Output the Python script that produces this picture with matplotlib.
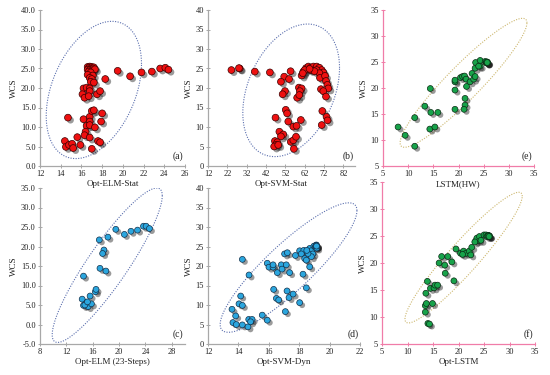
import numpy as np
import matplotlib
matplotlib.use("Agg")
import matplotlib.pyplot as plt
import matplotlib.patheffects as pe
from matplotlib.ticker import FormatStrFormatter

plt.rcParams['font.family'] = ['Liberation Serif', 'DejaVu Serif']

# (a) Opt-ELM-Stat vs WCS
a_x = [16.6, 16.8, 17.0, 17.2, 16.7, 16.9, 17.1, 16.6, 16.8, 17.0, 17.3, 16.7, 16.9, 16.6, 17.1, 16.8, 17.0, 16.9, 17.2,
       18.3, 19.5, 20.7, 21.8, 22.8, 23.6, 24.1, 24.4,
       16.2, 16.5, 16.8, 16.8, 16.1, 16.3, 16.7, 17.5, 17.8,
       14.7, 16.2, 16.8, 17.0, 17.2, 16.8, 16.5, 16.8, 17.3, 18.0, 17.9, 16.4, 16.3, 16.8, 15.6, 15.9, 14.4, 14.5,
       14.8, 15.1, 15.2, 17.0, 17.6, 17.8]
a_y = [25.4, 25.5, 25.4, 25.3, 25.1, 25.0, 25.0, 24.7, 24.6, 24.5, 24.8, 24.2, 24.0, 23.4, 23.2, 22.6, 22.3, 21.6, 21.4,
       22.3, 24.4, 23.0, 24.0, 24.2, 25.0, 25.2, 24.7,
       19.9, 20.1, 19.9, 19.2, 18.4, 17.5, 17.9, 18.4, 19.2,
       12.4, 12.0, 12.6, 14.1, 14.3, 11.4, 10.3, 10.5, 9.9, 13.5, 11.4, 8.8, 7.9, 7.3, 7.4, 5.4, 6.4, 4.9,
       5.4, 5.7, 4.6, 4.4, 6.4, 6.1]

# (b) Opt-SVM-Stat vs WCS
b_x = [24.1, 28.4, 28.0, 36.2, 44.0, 54.7, 51.4, 53.9, 49.7, 51.8, 50.6,
       60.4, 61.3, 62.7, 63.9, 65.1, 66.5, 68.2, 69.6, 70.8, 71.6, 68.2, 65.1, 62.0, 61.0, 69.6, 67.0, 64.5,
       59.0, 60.4, 59.5, 58.1, 59.2,
       69.9, 72.5, 73.0, 73.7, 74.2, 70.4, 71.6, 73.0, 71.1, 73.3, 73.8, 70.8,
       52.2, 52.9, 46.9, 60.0, 53.5, 56.1, 57.8, 48.9, 50.9, 49.7, 46.6, 47.8, 47.1, 46.2, 48.3, 54.8, 56.1, 57.5, 56.4]
b_y = [24.6, 25.0, 25.1, 24.2, 24.0, 24.3, 22.9, 22.3, 21.6, 19.2, 18.4,
       23.2, 24.2, 25.1, 25.5, 25.2, 25.5, 25.5, 25.2, 24.6, 24.0, 24.6, 24.6, 24.6, 23.8, 23.8, 24.3, 24.9,
       20.1, 19.9, 19.2, 17.5, 18.2,
       22.6, 23.1, 21.8, 20.8, 19.9, 19.7, 19.2, 17.8, 14.1, 12.6, 11.7, 10.5,
       14.4, 13.5, 12.4, 11.8, 11.4, 10.1, 10.3, 8.8, 8.1, 7.6, 6.4, 6.1, 5.4, 5.0, 5.4, 6.2, 6.6, 7.5, 4.4]

# (e) LSTM(HW) vs WCS  (last points overlap at ~25.6 / 24.9)
e_x = [8.0, 9.4, 11.3, 11.3, 13.3, 14.4, 14.5, 15.9, 14.3, 15.3, 19.3, 19.3, 19.3, 19.3, 20.4, 20.8, 21.2, 21.5,
       21.3, 21.3, 21.1, 21.6, 22.3, 23.0, 22.7, 23.3, 23.4, 24.3, 24.3, 25.3, 23.3, 24.0,
       25.6, 25.7, 25.5, 25.6, 25.7, 25.8, 25.6, 25.7]
e_y = [12.5, 10.9, 8.8, 14.3, 16.5, 19.9, 15.3, 15.3, 12.1, 12.5, 15.9, 19.6, 21.2, 21.5, 22.0, 22.2, 22.3, 21.7,
       18.0, 16.7, 15.9, 20.3, 21.2, 21.7, 22.8, 22.2, 24.9, 25.3, 24.2, 25.1, 23.8, 24.2,
       24.8, 25.0, 24.9, 24.9, 24.8, 24.9, 25.0, 24.9]

# (c) Opt-ELM (23-Steps) vs WCS
c_x = [14.6, 14.4, 14.6, 15.1, 15.3, 15.8, 14.8, 15.6, 16.4, 16.5, 17.1, 18.0, 17.7, 17.5, 17.0, 18.3, 19.5,
       20.8, 21.8, 22.8, 23.7, 24.1, 24.6, 15.2]
c_y = [12.4, 6.5, 4.9, 5.6, 4.6, 5.3, 5.0, 7.3, 8.4, 9.0, 14.4, 13.7, 19.1, 18.2, 21.7, 22.4, 24.4,
       23.1, 23.9, 24.2, 25.2, 25.2, 24.6, 5.8]

# (d) Opt-SVM-Dyn vs WCS
d_x = [14.26, 14.7, 14.15, 14.04, 14.26, 13.58, 13.82, 13.64, 13.86, 14.26, 14.63, 14.68, 14.9, 14.8, 15.57,
       15.9, 17.09, 16.32, 16.5, 16.65, 17.2, 17.33, 17.6, 18.03, 18.47,
       15.9, 16.01, 16.28, 16.28, 16.56, 16.82, 16.87, 17.15, 17.37, 17.04, 17.22, 17.75, 18.03, 18.3, 18.14,
       18.36, 18.47, 18.69, 18.25,
       18.69, 18.84, 18.97, 19.06, 18.9, 18.8, 19.13, 18.58, 18.5, 19.1, 19.15, 19.13, 19.1, 19.12, 19.14]
d_y = [21.7, 17.7, 12.3, 10.3, 9.9, 8.9, 7.2, 5.5, 5.0, 4.9, 4.4, 6.3, 6.3, 5.7, 7.4,
       6.1, 8.3, 14.0, 11.7, 11.3, 13.6, 11.9, 12.8, 10.6, 14.4,
       20.7, 19.7, 19.7, 20.3, 18.3, 20.3, 19.2, 20.3, 18.3, 23.1, 23.4, 22.7, 23.9, 24.0, 23.1,
       21.9, 21.5, 19.8, 17.9,
       24.5, 24.0, 25.1, 24.8, 23.1, 22.4, 25.4, 23.2, 24.0, 25.0, 24.6, 25.3, 25.2, 25.2, 25.1]

# (f) Opt-LSTM vs WCS
f_x = [14.0, 14.3, 13.5, 13.5, 13.7, 14.9, 13.6, 14.5, 13.9, 15.2, 15.4, 15.9, 17.4, 19.1, 16.2, 17.3, 16.7,
       17.9, 18.7, 19.5, 20.4, 21.0, 21.5, 22.1, 22.4, 20.8, 22.6, 23.4, 23.9, 23.6, 24.1, 23.2, 24.4,
       25.0, 25.4, 25.8, 26.0, 25.6, 25.9, 26.1, 25.8, 26.0]
f_y = [8.8, 8.7, 10.9, 12.1, 12.5, 12.5, 14.4, 15.3, 16.6, 15.4, 15.9, 15.9, 18.1, 16.7, 20.0, 19.6, 21.2,
       21.2, 20.2, 22.6, 21.8, 22.2, 21.8, 22.2, 21.5, 21.6, 22.9, 24.1, 24.2, 24.6, 24.9, 23.9, 24.2,
       25.2, 25.2, 25.1, 25.0, 24.9, 25.1, 25.0, 25.0, 24.9]

RED, BLUE, GREEN = '#ee1111', '#2ba6de', '#17a34a'
GREY_AX, PINK_AX = '#a8a8a8', '#f07ca8'
ELL_BLUE, ELL_YEL = '#5b6fae', '#cdb870'

W, H = 550, 375


def make_ax(fig, left, right, top, bottom):
    return fig.add_axes([left / W, 1 - bottom / H, (right - left) / W, (bottom - top) / H])


def confidence_ellipse(ax, center, hx, hy, rho, color):
    # ellipse with given half extents along x and y and a correlation-like tilt
    cov = np.array([[hx * hx, rho * hx * hy], [rho * hx * hy, hy * hy]])
    L = np.linalg.cholesky(cov)
    t = np.linspace(0, 2 * np.pi, 300)
    pts = L @ np.vstack([np.cos(t), np.sin(t)])
    ax.plot(center[0] + pts[0], center[1] + pts[1], color=color, lw=0.8,
            linestyle=(0, (1, 1.3)), zorder=1)


def style(ax, axcol, xlim, ylim, xticks, yticks, xlabel, tag, yfmt=None):
    ax.set_xlim(*xlim)
    ax.set_ylim(*ylim)
    ax.set_xticks(xticks)
    ax.set_yticks(yticks)
    if yfmt:
        ax.yaxis.set_major_formatter(FormatStrFormatter(yfmt))
    for s in ('top', 'right'):
        ax.spines[s].set_visible(False)
    for s in ('left', 'bottom'):
        ax.spines[s].set_color(axcol)
        ax.spines[s].set_linewidth(0.9)
    ax.tick_params(direction='inout', length=3, width=0.7, color=axcol,
                   labelsize=6, labelcolor='#222222', pad=1.5)
    ax.set_xlabel(xlabel, fontsize=6.5, labelpad=1.5, color='#222222')
    ax.set_ylabel('WCS', fontsize=6.5, labelpad=2, color='#222222')
    ax.text(0.99, 0.03, tag, transform=ax.transAxes, ha='right', va='bottom',
            fontsize=7, color='#222222')
    ax.set_facecolor('none')


def dots(ax, x, y, color, edge, size):
    shadow = [pe.SimplePatchShadow(offset=(1.8, -1.8), shadow_rgbFace='#222222', alpha=0.45), pe.Normal()]
    ax.scatter(x, y, s=size, c=color, edgecolors=edge, linewidths=0.5, zorder=3, path_effects=shadow)


fig = plt.figure(figsize=(5.5, 3.75), dpi=100)

ax_a = make_ax(fig, 40, 185, 10, 166)
confidence_ellipse(ax_a, (17.2, 19.5), 4.6, 17.6, 0.38, ELL_BLUE)
dots(ax_a, a_x, a_y, RED, '#3a0000', 24)
style(ax_a, GREY_AX, (12, 26), (0, 40), range(12, 27, 2), range(0, 41, 5), 'Opt-ELM-Stat', '(a)', '%.1f')

ax_b = make_ax(fig, 208, 355, 10, 166)
confidence_ellipse(ax_b, (55, 19.4), 25, 17, 0.34, ELL_BLUE)
dots(ax_b, b_x, b_y, RED, '#3a0000', 24)
style(ax_b, GREY_AX, (12, 88), (0, 40), range(12, 83, 10), range(0, 41, 5), 'Opt-SVM-Stat', '(b)')

ax_e = make_ax(fig, 383, 534, 10, 166)
confidence_ellipse(ax_e, (21, 21), 12.6, 12.4, 0.93, ELL_YEL)
dots(ax_e, e_x, e_y, GREEN, '#0b2a14', 18)
style(ax_e, PINK_AX, (5, 35), (5, 35), range(5, 36, 5), range(5, 36, 5), 'LSTM(HW)', '(e)')

ax_c = make_ax(fig, 40, 185, 188, 344)
confidence_ellipse(ax_c, (18.2, 15.2), 8.35, 19.8, 0.9, ELL_BLUE)
dots(ax_c, c_x, c_y, BLUE, '#12304a', 18)
style(ax_c, GREY_AX, (8, 30), (-5, 35), range(8, 29, 4), range(-5, 36, 5), 'Opt-ELM (23-Steps)', '(c)', '%.1f')

ax_d = make_ax(fig, 208, 360, 188, 344)
confidence_ellipse(ax_d, (17.3, 19.6), 4.5, 16.6, 0.88, ELL_BLUE)
dots(ax_d, d_x, d_y, BLUE, '#12304a', 18)
style(ax_d, GREY_AX, (12, 22), (0, 40), range(12, 23, 2), range(0, 41, 5), 'Opt-SVM-Dyn', '(d)')

ax_f = make_ax(fig, 382, 535, 182, 344)
confidence_ellipse(ax_f, (21, 21), 11.5, 12.1, 0.94, ELL_YEL)
dots(ax_f, f_x, f_y, GREEN, '#0b2a14', 18)
style(ax_f, PINK_AX, (5, 35), (5, 35), range(5, 36, 5), range(5, 36, 5), 'Opt-LSTM', '(f)')

fig.savefig('out.png', dpi=100, facecolor='white')
